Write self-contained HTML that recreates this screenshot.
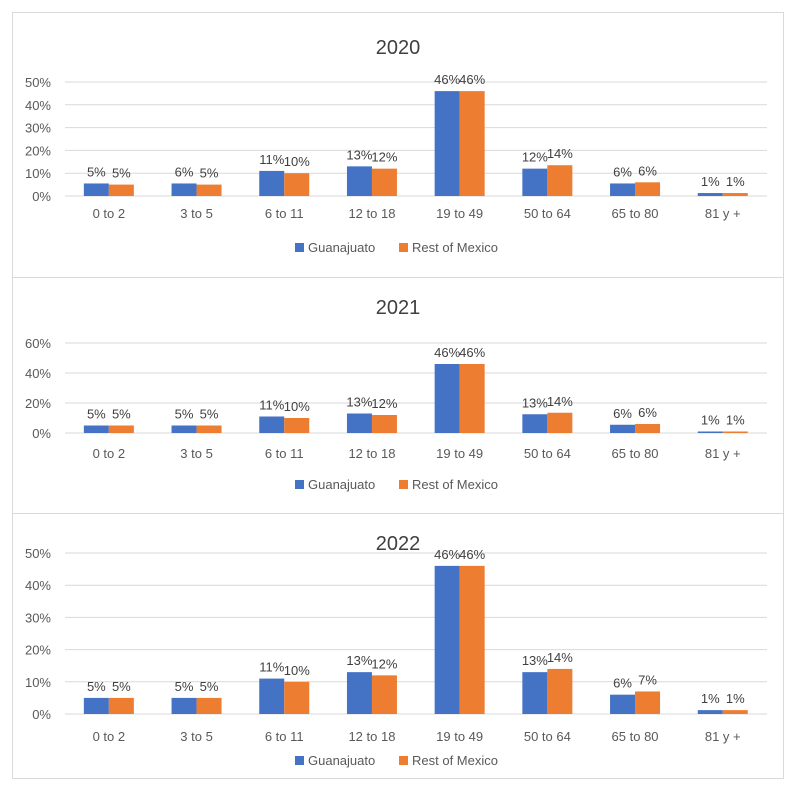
<!DOCTYPE html>
<html><head><meta charset="utf-8"><style>
body{margin:0;background:#fff;font-family:"Liberation Sans",Calibri,sans-serif}
svg{display:block}
</style></head><body>
<svg id="c" width="800" height="796"></svg>
<script>
const categories=["0 to 2","3 to 5","6 to 11","12 to 18","19 to 49","50 to 64","65 to 80","81 y +"];
const years=["2020","2021","2022"];
const guanajuato2020=[5.5,5.5,11,13,46,12,5.5,1.3];
const rest2020=[5,5,10,12,46,13.5,6,1.3];
const guanajuato2021=[5,5,11,13,46,12.5,5.5,1];
const rest2021=[5,5,10,12,46,13.5,6,1];
const guanajuato2022=[5,5,11,13,46,13,6,1.2];
const rest2022=[5,5,10,12,46,14,7,1.2];
const labelsG2020=["5%","6%","11%","13%","46%","12%","6%","1%"];
const labelsR2020=["5%","5%","10%","12%","46%","14%","6%","1%"];
const labelsG2021=["5%","5%","11%","13%","46%","13%","6%","1%"];
const labelsR2021=["5%","5%","10%","12%","46%","14%","6%","1%"];
const labelsG2022=["5%","5%","11%","13%","46%","13%","6%","1%"];
const labelsR2022=["5%","5%","10%","12%","46%","14%","7%","1%"];
const ticks2020=[0,10,20,30,40,50];
const ticks2021=[0,20,40,60];
const ticks2022=[0,10,20,30,40,50];
const NS="http://www.w3.org/2000/svg";
const svg=document.getElementById('c');
function mk(t,a,p){const e=document.createElementNS(NS,t);for(const k in a)e.setAttribute(k,a[k]);(p||svg).appendChild(e);return e;}
const panels=[
 {top:12,bot:277,titleY:54,y0:196,ymax:50,yTop:82,ticks:ticks2020,g:guanajuato2020,r:rest2020,lg:labelsG2020,lr:labelsR2020,catY:218,legY:252},
 {top:277,bot:513,titleY:314,y0:433,ymax:60,yTop:343,ticks:ticks2021,g:guanajuato2021,r:rest2021,lg:labelsG2021,lr:labelsR2021,catY:458,legY:489},
 {top:513,bot:778,titleY:550,y0:714,ymax:50,yTop:553,ticks:ticks2022,g:guanajuato2022,r:rest2022,lg:labelsG2022,lr:labelsR2022,catY:741,legY:765}
];
const plotL=65,step=87.7,bw=25;
panels.forEach((p,pi)=>{
 const g=mk('g',{});
 
 
 const box=mk('rect',{x:12.5,y:p.top+0.5,width:771,height:p.bot-p.top,fill:'#fff',stroke:'#d9d9d9'},g);
 
 
 const t=mk('text',{x:398,y:p.titleY,'text-anchor':'middle','font-size':20,fill:'#404040'},g);
 t.textContent=years[pi];
 
 
 const ys=v=>p.y0-(v/p.ymax)*(p.y0-p.yTop);
 p.ticks.forEach(v=>{
  const l=mk('line',{x1:plotL,x2:767,y1:ys(v),y2:ys(v),stroke:'#d9d9d9'},g);
  
  
  const tx=mk('text',{x:51,y:ys(v)+5,'text-anchor':'end','font-size':13,fill:'#595959'},g);
  tx.textContent=v+'%';
  
  
 });
 categories.forEach((c,i)=>{
  const cx=plotL+step*(i+0.5);
  [[p.g,p.lg,'#4472c4',cx-bw,'guanajuato'],[p.r,p.lr,'#ed7d31',cx,'rest']].forEach(([arr,lab,col,x,nm])=>{
   const y=ys(arr[i]);
   const b=mk('rect',{x:x,y:y,width:bw,height:p.y0-y,fill:col},g);
   
   
   const lt=mk('text',{x:x+bw/2,y:y-7,'text-anchor':'middle','font-size':13,fill:'#404040'},g);
   lt.textContent=lab[i];
   
   
  });
  const ct=mk('text',{x:cx,y:p.catY,'text-anchor':'middle','font-size':13,fill:'#595959'},g);
  ct.textContent=c;
  
  
 });
 [['#4472c4','Guanajuato',295],['#ed7d31','Rest of Mexico',399]].forEach(([col,txt,x])=>{
  const lg=mk('g',{},g);
  
  
  mk('rect',{x:x,y:p.legY-9,width:9,height:9,fill:col},lg);
  const tt=mk('text',{x:x+13,y:p.legY,'font-size':13,fill:'#595959'},lg);
  tt.textContent=txt;
 });
});
</script>
</body></html>
